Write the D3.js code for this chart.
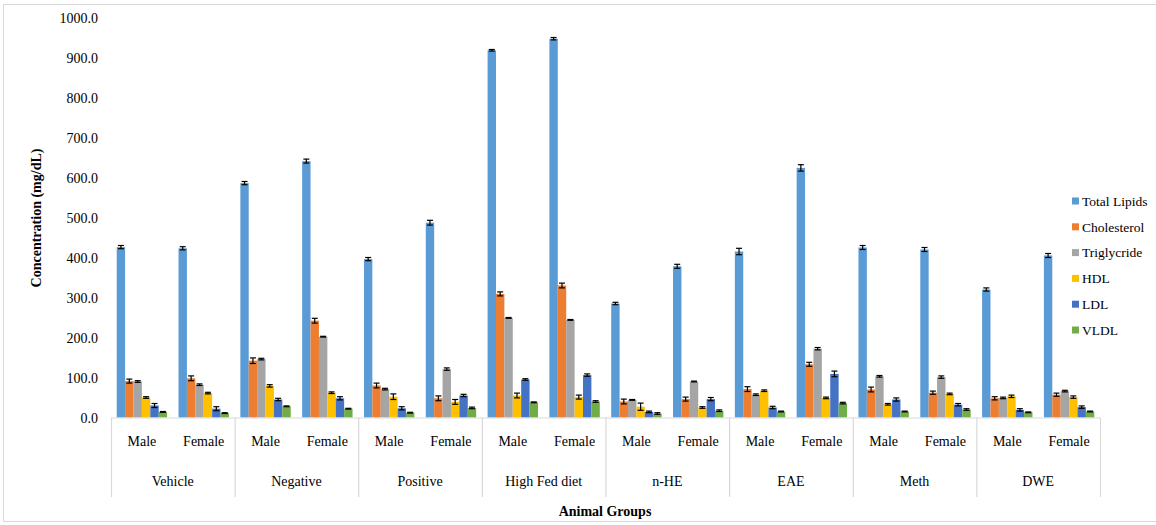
<!DOCTYPE html>
<html>
<head>
<meta charset="utf-8">
<script src="https://cdn.jsdelivr.net/npm/d3@7"></script>
<style>
  html, body { margin: 0; padding: 0; background: #fff; }
  svg { display: block; }
</style>
</head>
<body>
<svg id="chart" width="1156" height="525"></svg>
<script>
// Treatment groups, each split by sex
const groups = ["Vehicle", "Negative", "Positive", "High Fed diet", "n-HE", "EAE", "Meth", "DWE"];
const sexes = ["Male", "Female"];
const seriesNames = ["Total Lipids", "Cholesterol", "Triglycride", "HDL", "LDL", "VLDL"];
const seriesColors = ["#5B9BD5", "#ED7D31", "#A5A5A5", "#FFC000", "#4472C4", "#70AD47"];
const yTicks = [0, 100, 200, 300, 400, 500, 600, 700, 800, 900, 1000];

// Values per series, ordered group by group (Male, Female)
const totalLipids  = [426, 423, 586, 641, 396, 487, 918, 947, 285, 378, 415, 624, 425, 420, 320, 405];
const cholesterol  = [91, 98, 142, 242, 80, 48, 309, 330, 40, 46, 71, 133, 70, 62, 48, 57];
const triglycride  = [90, 82, 146, 202, 71, 121, 249, 244, 44, 90, 57, 172, 103, 101, 49, 66];
const hdl          = [50, 61, 79, 62, 52, 39, 55, 51, 27, 25, 67, 49, 33, 59, 53, 51];
const ldl          = [30, 22, 45, 48, 23, 55, 95, 106, 14, 46, 25, 109, 45, 32, 19, 26];
const vldl         = [14, 11, 28, 22, 12, 24, 38, 40, 10, 17, 15, 36, 15, 20, 13, 15];

// Standard errors
const totalLipidsErr = [4, 4, 4, 5, 4, 6, 2, 3, 3, 5, 8, 8, 5, 5, 4, 5];
const cholesterolErr = [5, 6, 7, 6, 6, 6, 5, 6, 6, 5, 6, 5, 6, 4, 4, 4];
const triglycrideErr = [2, 2, 2, 1, 2, 3, 1, 1, 1, 1, 2, 3, 2, 3, 2, 2];
const hdlErr         = [2, 2, 3, 2, 7, 6, 6, 5, 9, 2, 2, 2, 2, 2, 3, 3];
const ldlErr         = [5, 5, 3, 4, 4, 3, 2, 3, 2, 4, 3, 7, 4, 3, 3, 3];
const vldlErr        = [1, 1, 1, 1, 1, 2, 1, 2, 2, 2, 1, 2, 1, 2, 1, 1];

const seriesValues = [totalLipids, cholesterol, triglycride, hdl, ldl, vldl];
const seriesErrors = [totalLipidsErr, cholesterolErr, triglycrideErr, hdlErr, ldlErr, vldlErr];

const FONT = "'Liberation Serif', 'Times New Roman', 'DejaVu Serif', serif";
const svg = d3.select("#chart");

// Outer chart frame
svg.append("rect")
  .attr("x", 3.5).attr("y", 4.5).attr("width", 1160).attr("height", 517)
  .attr("fill", "none").attr("stroke", "#d9d9d9").attr("stroke-width", 1);

const plotLeft = 111, plotRight = 1100;
const y = d3.scaleLinear().domain([0, 1000]).range([417.5, 17.5]);

// Category keys: group|sex
const cats = [];
groups.forEach(g => sexes.forEach(s => cats.push(g + "|" + s)));

const xGroup = d3.scaleBand().domain(groups).range([plotLeft, plotRight]).padding(0);
const xCat = d3.scaleBand().domain(cats).range([plotLeft, plotRight]).padding(0);
const xSeries = d3.scaleBand().domain(seriesNames)
  .range([0, xCat.bandwidth()]).paddingInner(0).paddingOuter(0.68);

// Y axis labels (no line, no ticks)
const yAxis = d3.axisLeft(y).tickValues(yTicks).tickSize(0).tickPadding(0)
  .tickFormat(d3.format(".1f"));
const yG = svg.append("g").attr("transform", "translate(98,0)").call(yAxis);
yG.select(".domain").remove();
yG.attr("font-family", null).attr("font-size", null);
yG.selectAll("text")
  .style("font-family", FONT)
  .style("font-size", "14px").attr("fill", "#000").attr("dy", "0.35em");

// Y axis title
svg.append("text")
  .attr("transform", "translate(41,218) rotate(-90)")
  .attr("text-anchor", "middle")
  .style("font-family", FONT)
  .style("font-size", "14px").style("font-weight", "bold")
  .text("Concentration (mg/dL)");

// Bars
const barData = [];
cats.forEach((c, i) => {
  seriesNames.forEach((s, k) => {
    barData.push({ cat: c, series: s, k: k, v: seriesValues[k][i], e: seriesErrors[k][i] });
  });
});

svg.append("g").selectAll("rect").data(barData).join("rect")
  .attr("x", d => xCat(d.cat) + xSeries(d.series))
  .attr("y", d => y(d.v))
  .attr("width", xSeries.bandwidth())
  .attr("height", d => y(0) - y(d.v))
  .attr("fill", d => seriesColors[d.k]);

// Error bars
const eg = svg.append("g").attr("stroke", "#000").attr("stroke-width", 1.2);
barData.forEach(d => {
  const cx = xCat(d.cat) + xSeries(d.series) + xSeries.bandwidth() / 2;
  const y1 = y(d.v + d.e), y2 = y(d.v - d.e);
  eg.append("line").attr("x1", cx).attr("x2", cx).attr("y1", y1).attr("y2", y2);
  eg.append("line").attr("x1", cx - 3).attr("x2", cx + 3).attr("y1", y1).attr("y2", y1);
  eg.append("line").attr("x1", cx - 3).attr("x2", cx + 3).attr("y1", y2).attr("y2", y2);
});

// Category axis: baseline and group dividers
const axisColor = "#d9d9d9";
svg.append("line")
  .attr("x1", plotLeft).attr("x2", plotRight)
  .attr("y1", y(0) + 0.5).attr("y2", y(0) + 0.5)
  .attr("stroke", axisColor).attr("stroke-width", 1.2);

const dividers = groups.map(g => xGroup(g)).concat([plotRight]);
svg.append("g").selectAll("line").data(dividers).join("line")
  .attr("x1", d => d + 0.5).attr("x2", d => d + 0.5)
  .attr("y1", y(0)).attr("y2", 497)
  .attr("stroke", axisColor).attr("stroke-width", 1.2);

// Sex labels
svg.append("g").selectAll("text").data(cats).join("text")
  .attr("x", d => xCat(d) + xCat.bandwidth() / 2)
  .attr("y", 446)
  .attr("text-anchor", "middle")
  .style("font-family", FONT)
  .style("font-size", "14px")
  .text(d => d.split("|")[1]);

// Group labels
svg.append("g").selectAll("text").data(groups).join("text")
  .attr("x", d => xGroup(d) + xGroup.bandwidth() / 2)
  .attr("y", 486)
  .attr("text-anchor", "middle")
  .style("font-family", FONT)
  .style("font-size", "14px")
  .text(d => d);

// X axis title
svg.append("text")
  .attr("x", 605).attr("y", 516)
  .attr("text-anchor", "middle")
  .style("font-family", FONT)
  .style("font-size", "14px").style("font-weight", "bold")
  .text("Animal Groups");

// Legend
const legend = svg.append("g").attr("transform", "translate(1072,201)");
seriesNames.forEach((s, k) => {
  const row = legend.append("g").attr("transform", `translate(0,${k * 25.8})`);
  row.append("rect").attr("x", 0).attr("y", -3.5).attr("width", 7).attr("height", 7)
    .attr("fill", seriesColors[k]);
  row.append("text").attr("x", 10).attr("y", 0).attr("dy", "0.35em")
    .style("font-family", FONT)
    .style("font-size", "13.5px").text(s);
});
</script>
</body>
</html>
